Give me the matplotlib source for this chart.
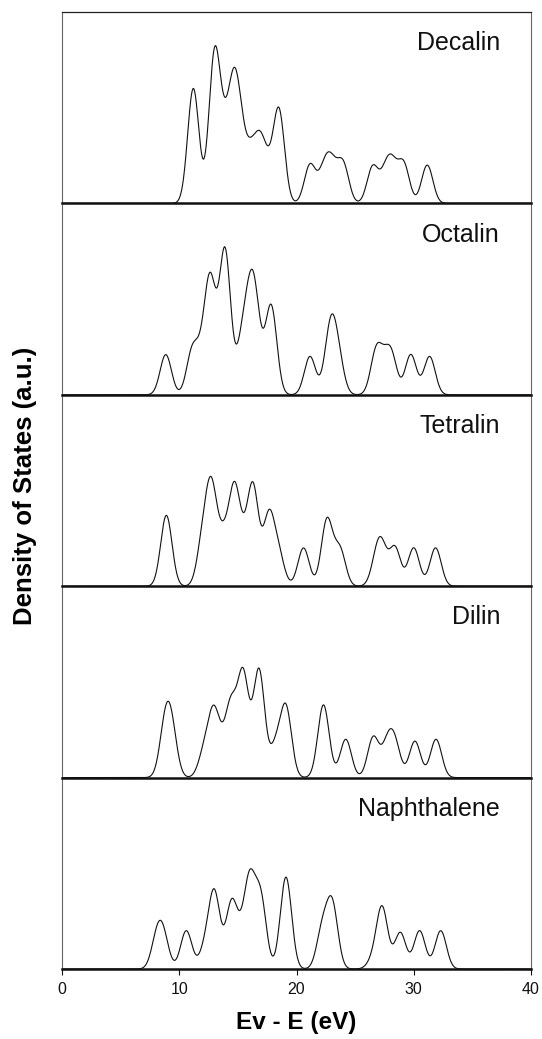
import numpy as np
import matplotlib
matplotlib.use("Agg")
import matplotlib.pyplot as plt

plt.rcParams["font.family"] = ["Liberation Sans", "DejaVu Sans"]

# Molecular orbital energies (eV) and relative weights for each molecule,
# broadened with a Gaussian to give the density of states.
names = ["Decalin", "Octalin", "Tetralin", "Dilin", "Naphthalene"]

decalin_e = [11.2, 13.0, 13.8, 14.6, 15.2, 16.1, 16.9, 17.6, 18.5, 21.15, 22.3,
             22.9, 23.4, 24.0, 26.5, 27.6, 28.2, 29.15, 31.15]
decalin_w = [0.60, 0.75, 0.25, 0.50, 0.30, 0.22, 0.28, 0.12, 0.48, 0.20, 0.14,
             0.16, 0.05, 0.19, 0.19, 0.14, 0.16, 0.20, 0.20]

octalin_e = [8.85, 11.1, 11.9, 12.65, 13.9, 15.3, 15.85, 16.4, 17.15, 17.85, 21.15,
             22.7, 23.0, 23.6, 26.8, 27.5, 28.1, 29.75, 31.35]
octalin_w = [0.21, 0.22, 0.15, 0.57, 0.75, 0.20, 0.25, 0.46, 0.05, 0.45, 0.20,
             0.10, 0.27, 0.15, 0.22, 0.10, 0.19, 0.21, 0.20]

tetralin_e = [8.9, 12.0, 12.75, 13.75, 14.7, 15.5, 16.3, 17.65, 18.5, 20.6, 22.6,
              23.7, 26.8, 27.25, 28.4, 30.0, 31.86]
tetralin_w = [0.37, 0.22, 0.48, 0.22, 0.48, 0.14, 0.50, 0.36, 0.15, 0.20, 0.345,
              0.19, 0.10, 0.18, 0.20, 0.20, 0.20]

dilin_e = [8.8, 9.35, 12.1, 12.9, 13.5, 14.4, 15.45, 16.8, 18.2, 19.1, 22.3,
           24.2, 26.55, 27.75, 28.4, 30.1, 31.9]
dilin_w = [0.25, 0.22, 0.12, 0.30, 0.10, 0.36, 0.53, 0.56, 0.15, 0.36, 0.38,
           0.20, 0.21, 0.16, 0.16, 0.19, 0.20]

naph_e = [8.1, 8.65, 10.6, 12.2, 13.0, 14.45, 15.2, 16.0, 16.95, 19.1, 22.2,
          23.05, 26.5, 27.3, 28.85, 30.5, 32.3]
naph_w = [0.15, 0.15, 0.20, 0.10, 0.39, 0.33, 0.10, 0.44, 0.36, 0.48, 0.20,
          0.33, 0.04, 0.32, 0.19, 0.20, 0.20]

levels = [(decalin_e, decalin_w), (octalin_e, octalin_w), (tetralin_e, tetralin_w),
          (dilin_e, dilin_w), (naph_e, naph_w)]

x_ticks = [0, 10, 20, 30, 40]
broadening = 0.48  # Gaussian sigma, eV


def dos(energy, centers, weights, sigma):
    out = np.zeros_like(energy)
    for c, w in zip(centers, weights):
        out += w * np.exp(-(energy - c) ** 2 / (2 * sigma ** 2))
    return out


energy = np.linspace(0, 40, 2001)

fig = plt.figure(figsize=(5.42, 10.39), dpi=100)
gs = fig.add_gridspec(5, 1, left=62 / 542, right=531 / 542,
                      top=1 - 12 / 1039, bottom=1 - 969 / 1039, hspace=0)

for i, (name, (e, w)) in enumerate(zip(names, levels)):
    ax = fig.add_subplot(gs[i])
    # transparent background so the panel below does not hide this baseline
    ax.set_facecolor("none")
    ax.set_zorder(10 - i)
    ax.plot(energy, dos(energy, e, w, broadening), color="#111111", lw=0.8)
    ax.set_xlim(0, 40)
    ax.set_ylim(0, 1)
    ax.set_yticks([])
    ax.text(0.934, 0.80, name, transform=ax.transAxes, ha="right",
            va="baseline", fontsize=18, color="#111111")

    for side in ("left", "right"):
        ax.spines[side].set_color("#666666")
        ax.spines[side].set_linewidth(0.8)
    ax.spines["bottom"].set_color("#111111")
    ax.spines["bottom"].set_linewidth(1.8)
    ax.spines["top"].set_color("#222222")
    ax.spines["top"].set_linewidth(0.9 if i == 0 else 0)

    if i < len(names) - 1:
        ax.set_xticks([])
    else:
        ax.set_xticks(x_ticks)
        ax.tick_params(axis="x", direction="out", length=4, width=0.8,
                       labelsize=11.5, pad=5, colors="#111111")

fig.text(296.5 / 542, 1 - 1023 / 1039, "Ev - E (eV)", ha="center", va="center",
         fontsize=17.5, fontweight="bold")
fig.text(25 / 542, 1 - 486 / 1039, "Density of States (a.u.)", ha="center",
         va="center", rotation=90, fontsize=18.5, fontweight="bold")

fig.savefig("out.png", dpi=100)
